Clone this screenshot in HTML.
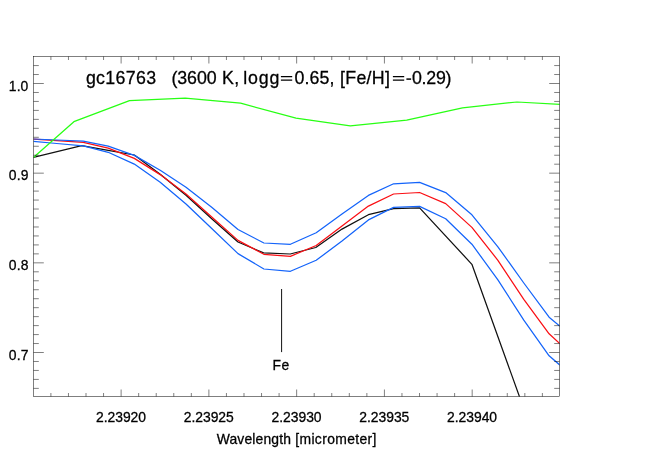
<!DOCTYPE html>
<html><head><meta charset="utf-8"><title>gc16763</title>
<style>
html,body{margin:0;padding:0;background:#fff;}
svg{display:block;will-change:transform;}
text{font-family:"Liberation Sans",sans-serif;fill:#000;stroke:#000;stroke-width:0.28px;}

</style></head>
<body>
<svg width="658" height="465" viewBox="0 0 658 465">
<rect width="658" height="465" fill="#fff"/>
<defs><clipPath id="c"><rect x="33.5" y="56.5" width="526.00" height="340.00"/></clipPath></defs>
<g clip-path="url(#c)">
<polyline points="33.4,157.3 81.7,145.7 108.2,150.3 134.3,155.0 160.2,174.2 186.0,195.2 212.0,219.0 238.0,242.0 263.6,252.9 290.2,254.0 315.8,247.5 342.0,229.1 368.4,214.7 393.6,208.7 419.6,207.8 471.9,264.3 523.8,408.7" fill="none" stroke="#111" stroke-width="1.25" stroke-linejoin="round"/>
<polyline points="33.4,139.2 56.8,140.6 83.3,142.4 108.2,148.2 134.3,158.4 160.2,174.6 186.0,194.0 212.0,217.3 238.0,240.4 263.9,254.3 290.4,256.3 316.2,245.5 342.0,225.9 368.4,206.1 393.6,194.0 419.6,192.5 445.7,203.6 471.9,227.4 497.9,260.3 523.8,299.3 549.1,333.8 560.0,343.9" fill="none" stroke="#fa0f14" stroke-width="1.25" stroke-linejoin="round"/>
<polyline points="33.4,139.0 56.8,140.0 83.3,141.2 108.2,146.1 134.3,155.4 160.2,170.2 186.0,187.2 212.0,207.5 238.0,229.5 263.9,243.0 290.4,244.3 316.2,232.8 342.0,214.1 368.4,195.4 393.6,183.8 419.6,182.3 445.7,192.6 471.9,214.8 497.9,246.8 523.8,283.0 549.1,317.2 560.0,326.2" fill="none" stroke="#1464fa" stroke-width="1.25" stroke-linejoin="round"/>
<polyline points="33.4,141.4 56.8,143.5 83.3,145.8 108.2,152.3 134.3,164.1 160.2,182.2 186.0,204.0 212.0,228.8 238.0,253.6 263.9,269.0 290.4,271.3 316.2,260.3 342.0,241.0 368.4,219.9 393.6,207.4 419.6,206.4 445.7,218.8 471.9,244.2 497.9,279.8 523.8,320.2 549.1,355.8 560.0,365.2" fill="none" stroke="#1464fa" stroke-width="1.25" stroke-linejoin="round"/>
<polyline points="33.4,157.5 73.9,121.7 129.5,100.7 185.2,98.2 240.6,103.2 296.0,118.2 350.3,125.8 406.7,120.1 462.5,107.8 517.0,102.0 560.0,104.3" fill="none" stroke="#28ff14" stroke-width="1.25" stroke-linejoin="round"/>
</g>
<rect x="33.5" y="56.5" width="526.00" height="340.00" fill="none" stroke="#000" stroke-width="0.5"/>
<path d="M50.90 396.5v-3.5M50.90 56.5v3.5M68.46 396.5v-3.5M68.46 56.5v3.5M86.01 396.5v-3.5M86.01 56.5v3.5M103.56 396.5v-3.5M103.56 56.5v3.5M121.12 396.5v-7.0M121.12 56.5v7.0M138.67 396.5v-3.5M138.67 56.5v3.5M156.22 396.5v-3.5M156.22 56.5v3.5M173.77 396.5v-3.5M173.77 56.5v3.5M191.33 396.5v-3.5M191.33 56.5v3.5M208.88 396.5v-7.0M208.88 56.5v7.0M226.43 396.5v-3.5M226.43 56.5v3.5M243.99 396.5v-3.5M243.99 56.5v3.5M261.54 396.5v-3.5M261.54 56.5v3.5M279.09 396.5v-3.5M279.09 56.5v3.5M296.65 396.5v-7.0M296.65 56.5v7.0M314.20 396.5v-3.5M314.20 56.5v3.5M331.75 396.5v-3.5M331.75 56.5v3.5M349.30 396.5v-3.5M349.30 56.5v3.5M366.86 396.5v-3.5M366.86 56.5v3.5M384.41 396.5v-7.0M384.41 56.5v7.0M401.96 396.5v-3.5M401.96 56.5v3.5M419.52 396.5v-3.5M419.52 56.5v3.5M437.07 396.5v-3.5M437.07 56.5v3.5M454.62 396.5v-3.5M454.62 56.5v3.5M472.18 396.5v-7.0M472.18 56.5v7.0M489.73 396.5v-3.5M489.73 56.5v3.5M507.28 396.5v-3.5M507.28 56.5v3.5M524.83 396.5v-3.5M524.83 56.5v3.5M542.39 396.5v-3.5M542.39 56.5v3.5M33.5 65.57h5.3M559.5 65.57h-5.3M33.5 74.53h5.3M559.5 74.53h-5.3M33.5 83.50h10.3M559.5 83.50h-10.3M33.5 92.47h5.3M559.5 92.47h-5.3M33.5 101.43h5.3M559.5 101.43h-5.3M33.5 110.40h5.3M559.5 110.40h-5.3M33.5 119.37h5.3M559.5 119.37h-5.3M33.5 128.34h5.3M559.5 128.34h-5.3M33.5 137.30h5.3M559.5 137.30h-5.3M33.5 146.27h5.3M559.5 146.27h-5.3M33.5 155.24h5.3M559.5 155.24h-5.3M33.5 164.20h5.3M559.5 164.20h-5.3M33.5 173.17h10.3M559.5 173.17h-10.3M33.5 182.14h5.3M559.5 182.14h-5.3M33.5 191.10h5.3M559.5 191.10h-5.3M33.5 200.07h5.3M559.5 200.07h-5.3M33.5 209.04h5.3M559.5 209.04h-5.3M33.5 218.00h5.3M559.5 218.00h-5.3M33.5 226.97h5.3M559.5 226.97h-5.3M33.5 235.94h5.3M559.5 235.94h-5.3M33.5 244.91h5.3M559.5 244.91h-5.3M33.5 253.87h5.3M559.5 253.87h-5.3M33.5 262.84h10.3M559.5 262.84h-10.3M33.5 271.81h5.3M559.5 271.81h-5.3M33.5 280.77h5.3M559.5 280.77h-5.3M33.5 289.74h5.3M559.5 289.74h-5.3M33.5 298.71h5.3M559.5 298.71h-5.3M33.5 307.68h5.3M559.5 307.68h-5.3M33.5 316.64h5.3M559.5 316.64h-5.3M33.5 325.61h5.3M559.5 325.61h-5.3M33.5 334.58h5.3M559.5 334.58h-5.3M33.5 343.54h5.3M559.5 343.54h-5.3M33.5 352.51h10.3M559.5 352.51h-10.3M33.5 361.48h5.3M559.5 361.48h-5.3M33.5 370.44h5.3M559.5 370.44h-5.3M33.5 379.41h5.3M559.5 379.41h-5.3M33.5 388.38h5.3M559.5 388.38h-5.3" fill="none" stroke="#000" stroke-width="0.5"/>
<line x1="281.6" y1="289" x2="281.6" y2="352.1" stroke="#111" stroke-width="1"/>
<g class="s">
<text x="85.89" y="83.80" font-size="17.8px" letter-spacing="0.327">gc16763</text>
<text x="171.43" y="83.80" font-size="17.8px" letter-spacing="-0.072">(3600</text>
<text x="221.98" y="83.80" font-size="17.8px" letter-spacing="0.505">K,</text>
<text x="243.14" y="83.80" font-size="17.8px" letter-spacing="0.891">logg</text>
<text x="294.49" y="83.80" font-size="17.8px" letter-spacing="0.127">0.65,</text>
<text x="340.05" y="83.80" font-size="17.8px" letter-spacing="0.295">[Fe/H]</text>
<text x="411.99" y="83.80" font-size="17.8px" letter-spacing="-0.254">0.29)</text>
<text x="96.02" y="422.00" font-size="13.9px" letter-spacing="-0.033">2.23920</text>
<text x="183.78" y="422.00" font-size="13.9px" letter-spacing="-0.033">2.23925</text>
<text x="271.55" y="422.00" font-size="13.9px" letter-spacing="-0.033">2.23930</text>
<text x="359.32" y="422.00" font-size="13.9px" letter-spacing="-0.033">2.23935</text>
<text x="447.08" y="422.00" font-size="13.9px" letter-spacing="-0.033">2.23940</text>
<text x="8.86" y="90.55" font-size="13.9px" letter-spacing="0.089">1.0</text>
<text x="8.74" y="180.22" font-size="13.9px" letter-spacing="0.215">0.9</text>
<text x="8.74" y="269.89" font-size="13.9px" letter-spacing="0.180">0.8</text>
<text x="8.74" y="359.56" font-size="13.9px" letter-spacing="0.215">0.7</text>
<text x="216.73" y="444.10" font-size="13.9px" letter-spacing="0.152">Wavelength</text>
<text x="295.23" y="444.10" font-size="13.9px" letter-spacing="0.367">[micrometer]</text>
<text x="272.59" y="369.80" font-size="13.9px" letter-spacing="0.475">Fe</text>
<path d="M280.9 76.6H292.2M280.9 80.1H292.2M392.9 76.6H404.2M392.9 80.1H404.2" stroke="#000" stroke-width="1.1" fill="none"/>
<path d="M406.4 79.1H411.1" stroke="#000" stroke-width="1.5" fill="none"/>
</g>
</svg>
</body></html>
